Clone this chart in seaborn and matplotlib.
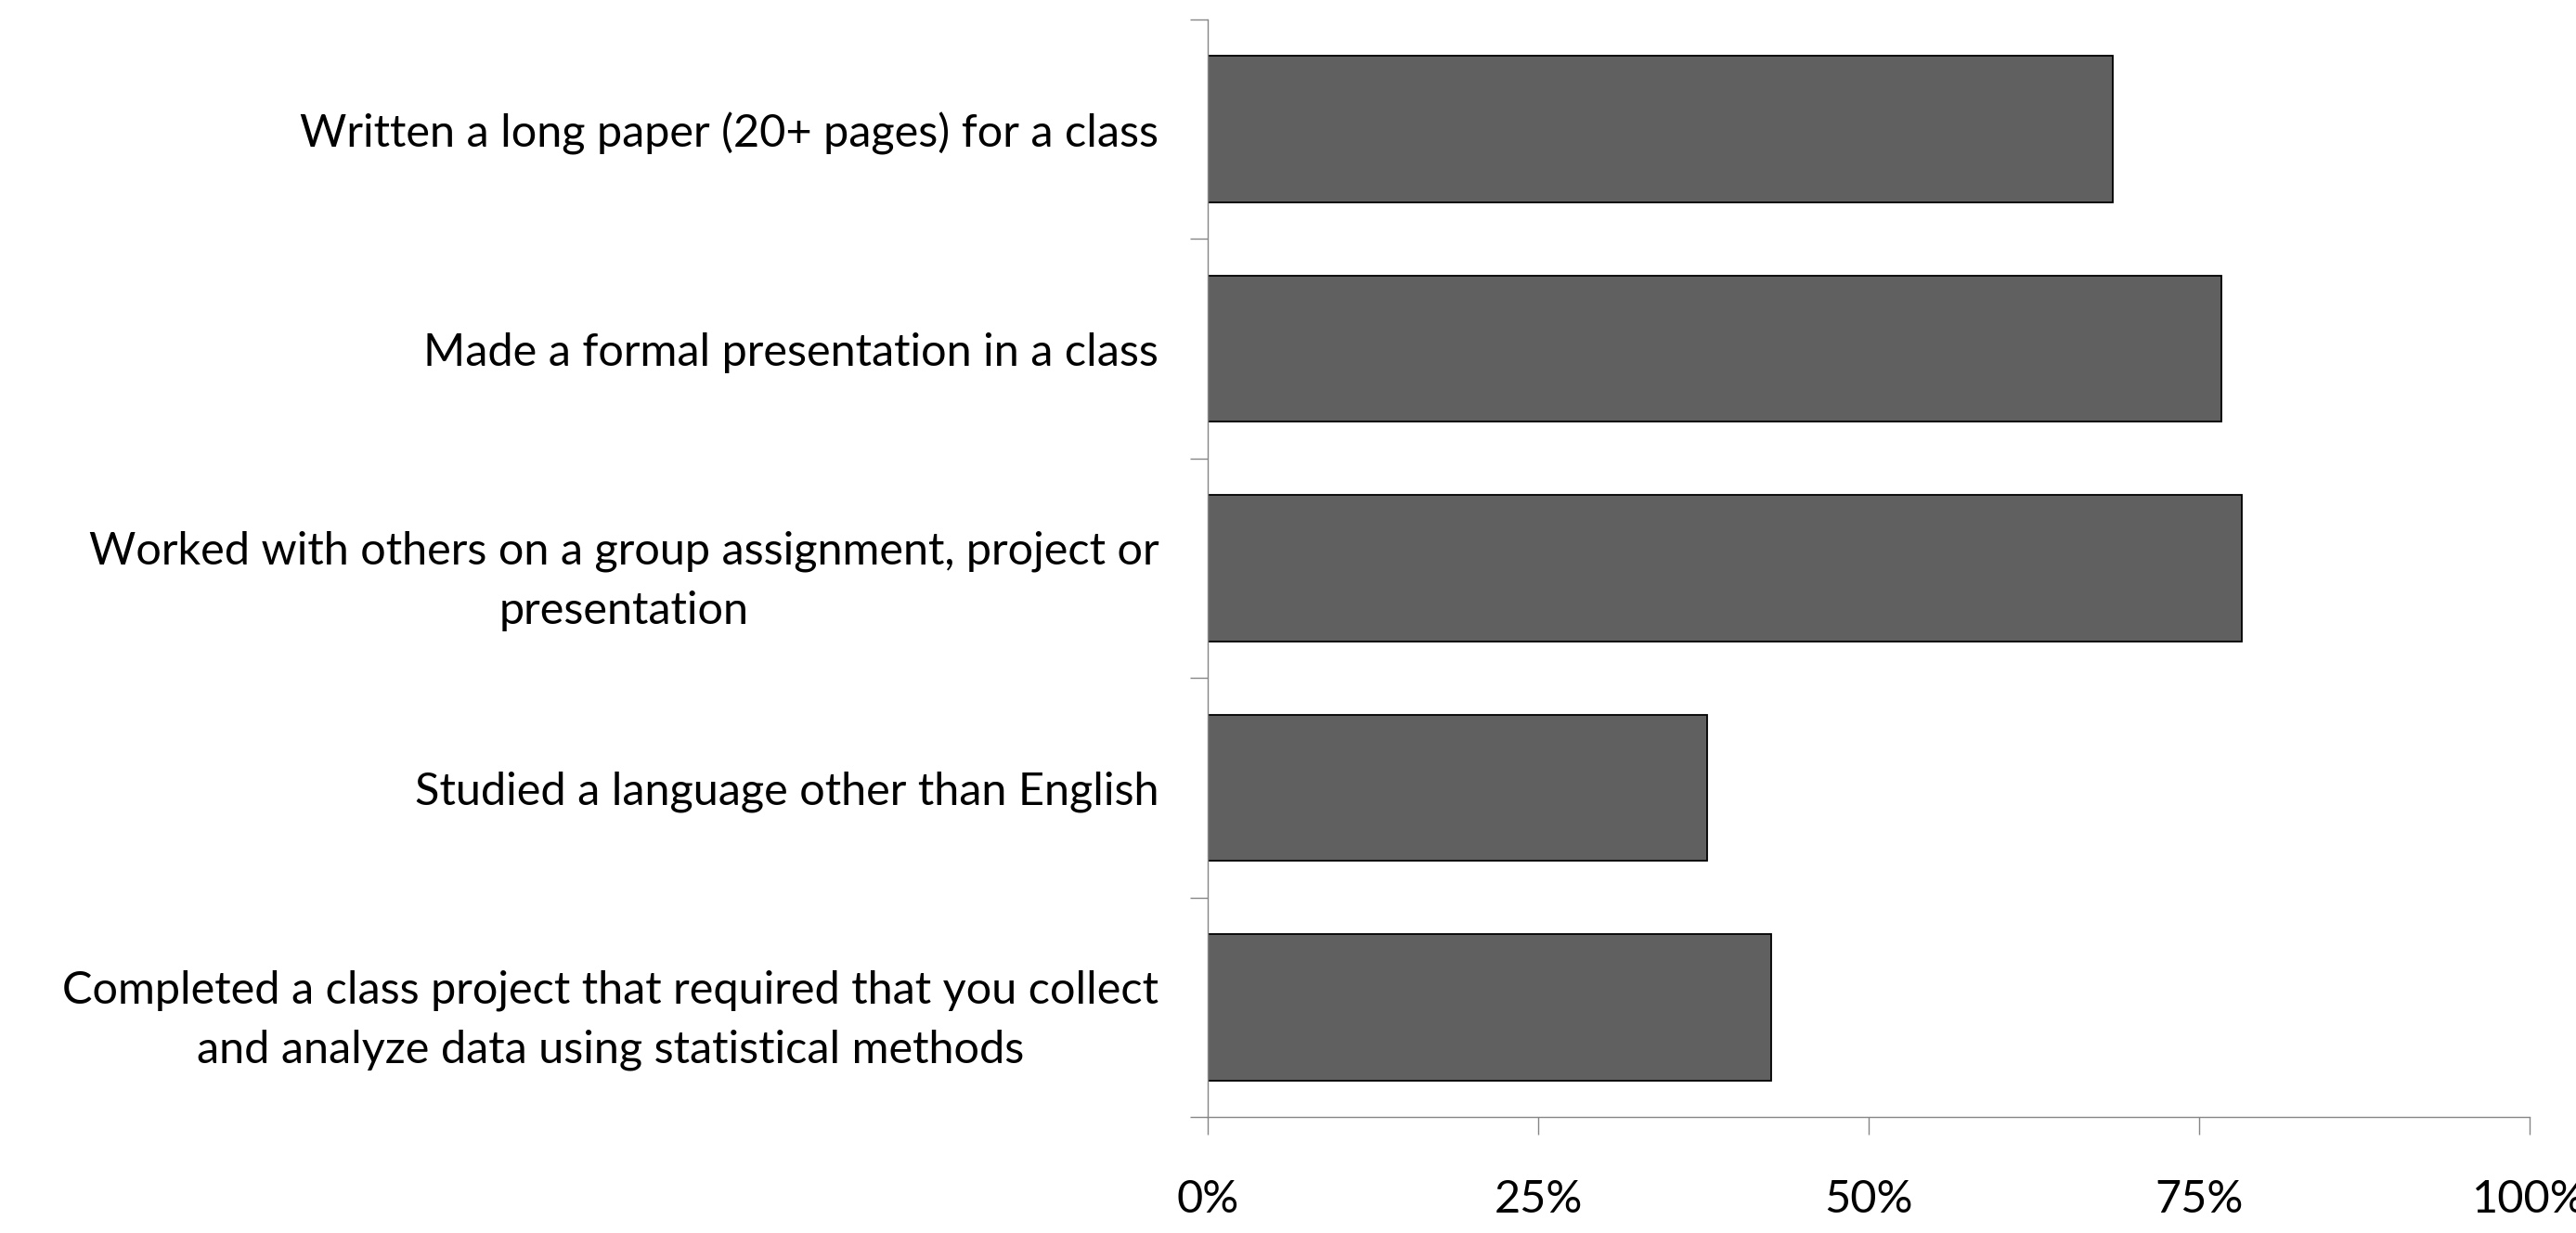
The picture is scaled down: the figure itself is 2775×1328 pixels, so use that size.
import numpy as np
import pandas as pd
import matplotlib
matplotlib.use("Agg")
import matplotlib.pyplot as plt
import seaborn as sns

# Data
activities = [
    "Written a long paper (20+ pages) for a class",
    "Made a formal presentation in a class",
    "Worked with others on a group assignment, project or\npresentation",
    "Studied a language other than English",
    "Completed a class project that required that you collect\nand analyze data using statistical methods",
]
shares = [0.685, 0.767, 0.782, 0.378, 0.426]
xtick_values = [0, 0.25, 0.5, 0.75, 1.0]
xtick_labels = ["0%", "25%", "50%", "75%", "100%"]

df = pd.DataFrame({"activity": activities, "share": shares})

sns.set_style("white")
plt.rcParams["font.family"] = ["Lato", "DejaVu Sans"]

fig = plt.figure(figsize=(27.75, 13.28), dpi=100)
ax = fig.add_axes([0.4688, 0.0941, 0.982 - 0.4688, 0.9842 - 0.0941])

sns.barplot(data=df, x="share", y="activity", orient="h", color="#606060",
            saturation=1, width=0.667, edgecolor="black", linewidth=1.3, ax=ax)

axis_gray = "#868686"
ax.set_xlim(0, 1)
ax.set_ylim(4.5, -0.5)
ax.set_xlabel("")
ax.set_ylabel("")

# x axis
ax.set_xticks(xtick_values, xtick_labels)
ax.tick_params(axis="x", bottom=True, length=14, width=1, color=axis_gray,
               direction="out", pad=34, labelsize=35, labelcolor="black")

# y axis: labels at categories, ticks on boundaries
ax.set_yticks(range(len(activities)), activities)
ax.set_yticks(np.arange(-0.5, len(activities), 1), minor=True)
ax.tick_params(axis="y", which="major", left=False, length=0, pad=38,
               labelsize=35, labelcolor="black")
ax.tick_params(axis="y", which="minor", left=True, length=14, width=1,
               color=axis_gray, direction="out")
for lbl in ax.get_yticklabels():
    lbl.set_multialignment("center")
    lbl.set_linespacing(1.55)

sns.despine(ax=ax, top=True, right=True)
for side in ["left", "bottom"]:
    ax.spines[side].set_color(axis_gray)
    ax.spines[side].set_linewidth(1)

fig.savefig("out.png", dpi=100)
